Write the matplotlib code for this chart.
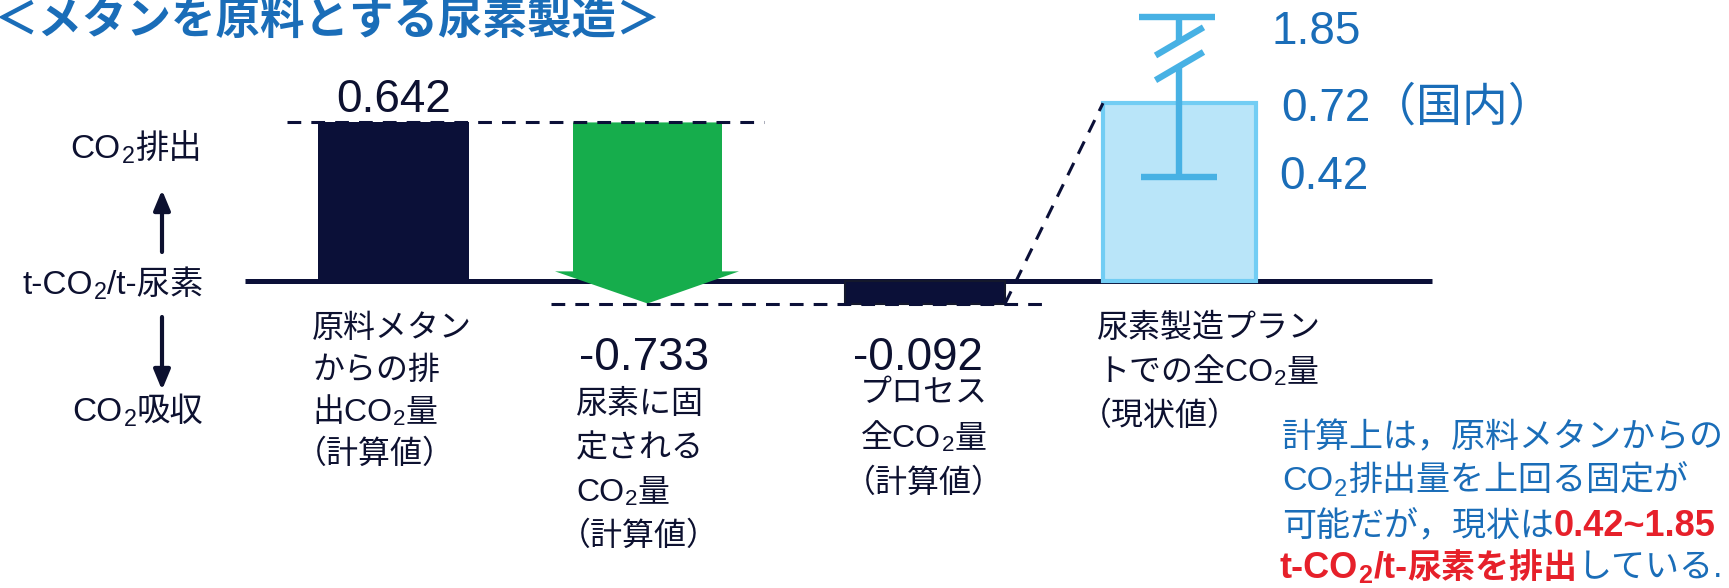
import re
import matplotlib.pyplot as plt
from matplotlib.patches import Polygon
from matplotlib.offsetbox import TextArea, HPacker, AnnotationBbox

W, H = 1729, 588

# t-CO2 / t-urea
feed_emission = 0.642      # CO2 released from the methane feedstock
urea_fixation = -0.733     # CO2 fixed into urea
process_total = -0.092     # net for the whole process
plant_actual = 0.72        # domestic plant, actual
plant_low, plant_high = 0.42, 1.85

value_labels = ["0.642", "-0.733", "-0.092"]
range_labels = ["1.85", "0.72（国内）", "0.42"]

cat_labels = [
    ["原料メタン", "からの排", "出CO$_2$量", "（計算値）"],
    ["尿素に固", "定される", "CO$_2$量", "（計算値）"],
    ["プロセス", "全CO$_2$量", "（計算値）"],
    ["尿素製造プラン", "トでの全CO$_2$量", "（現状値）"],
]

FAMILY = ['Liberation Sans', 'Noto Sans CJK JP', 'DejaVu Sans']
plt.rcParams['font.family'] = FAMILY
plt.rcParams['mathtext.fontset'] = 'custom'
plt.rcParams['mathtext.rm'] = 'Liberation Sans'
plt.rcParams['mathtext.it'] = 'Liberation Sans'
plt.rcParams['mathtext.bf'] = 'Liberation Sans:bold'

NAVY = '#0b1038'
TXT = '#0d1130'
BLUE = '#1a6db8'
RED = '#e6202a'
GREEN = '#16ad4c'
LIGHT = '#b9e5f9'
LIGHT_EDGE = '#72cdf4'
ERR = '#47b1e4'
DASH = (0, (4.5, 3.3))

fig = plt.figure(figsize=(W / 100, H / 100), dpi=100)
ax = fig.add_axes([0, 0, 1, 1])
zero_px, unit_px = 281, 247
ax.set_xlim(0, W)
ax.set_ylim(-(H - zero_px) / unit_px, zero_px / unit_px)
ax.axis('off')


def fp(x, y):
    return (x, H - y)


def rich(x, y, parts, ha='left'):
    """parts: list of (text, props); $..$ pieces become separate math runs."""
    kids = []
    for s, props in parts:
        for piece in re.split(r'(\$[^$]*\$)', s):
            if piece:
                kids.append(TextArea(piece, textprops=props))
    box = HPacker(children=kids, align='baseline', pad=0, sep=0)
    ab = AnnotationBbox(box, fp(x, y), xycoords='figure pixels', frameon=False,
                        pad=0, box_alignment=({'left': 0, 'center': 0.5}[ha], 0.5))
    ax.add_artist(ab)
    return ab


def draw_lines(lines, x, y0, step, ha='left', **props):
    for i, s in enumerate(lines):
        # full-width opening bracket carries its own left space
        dx = -17 if s.startswith('（') and ha == 'left' else 0
        rich(x + dx, y0 + i * step, [(s, props)], ha=ha)


# x positions of the columns (pixels)
x_feed, w_feed = 393.5, 151
x_fix, w_fix = 647.5, 149
x_proc, w_proc = 925, 160
x_plant, w_plant = 1179.5, 153

# zero line
ax.hlines(0, 245, 1432, color=NAVY, lw=3.6, zorder=2)

# feedstock emission
ax.bar(x_feed, feed_emission, w_feed, color=NAVY, zorder=3)
ax.plot([287, 764], [feed_emission] * 2, color=NAVY, lw=2.2, ls=DASH, zorder=5)

# fixation arrow, from the emission level down by the fixed amount
top = feed_emission
tip = feed_emission + urea_fixation
head_len = 0.13
hw = w_fix / 2
arrow = Polygon([
    (x_fix - hw, top), (x_fix + hw, top),
    (x_fix + hw, tip + head_len), (x_fix + hw + 17, tip + head_len),
    (x_fix, tip),
    (x_fix - hw - 18, tip + head_len), (x_fix - hw, tip + head_len),
], closed=True, facecolor=GREEN, edgecolor='none', zorder=4)
ax.add_patch(arrow)

# process total
ax.bar(x_proc, process_total, w_proc, color=NAVY, edgecolor='#14182c', lw=1.5, zorder=3)
ax.plot([551, 1042], [process_total] * 2, color=NAVY, lw=2.2, ls=DASH, zorder=5)
ax.plot([x_proc + w_proc / 2, x_plant - w_plant / 2], [process_total, plant_actual],
        color=NAVY, lw=2.2, ls=DASH, zorder=5)

# actual plant with range
ax.bar(x_plant, plant_actual, w_plant, color=LIGHT, edgecolor=LIGHT_EDGE, lw=3, zorder=3)

BRK = 0.92


def shown(v):
    # compress values above the break
    return v if v <= BRK else BRK + (v - BRK) * 0.16


ekw = dict(color=ERR, lw=4.6, solid_capstyle='butt', zorder=6)
ax.plot([x_plant] * 2, [plant_low, BRK - 0.05], **ekw)
ax.plot([x_plant] * 2, [BRK + 0.05, shown(plant_high)], **ekw)
ax.plot([x_plant - 38, x_plant + 38], [plant_low] * 2, **ekw)
ax.plot([x_plant - 40, x_plant + 36], [shown(plant_high)] * 2, **ekw)
for off in (-0.05, 0.05):
    ax.plot([x_plant - 24, x_plant + 24], [BRK + off - 0.057, BRK + off + 0.057], **ekw)

# value labels
vkw = dict(textcoords='offset points', ha='center', va='center', fontsize=33, color=TXT)
ax.annotate(value_labels[0], (x_feed, feed_emission), xytext=(0, 16), **vkw)
ax.annotate(value_labels[1], (x_fix - 3, tip), xytext=(0, -39), **vkw)
ax.annotate(value_labels[2], (x_proc - 7, process_total), xytext=(0, -39), **vkw)

rkw = dict(textcoords='offset points', ha='left', va='center', fontsize=33, color=BLUE)
ax.annotate(range_labels[0], (1272, shown(plant_high)), xytext=(0, -11), **rkw)
ax.annotate(range_labels[1], (1281, plant_actual), xytext=(0, -4), **rkw)
ax.annotate(range_labels[2], (1279, plant_low), xytext=(0, 0), **rkw)

# category labels
ckw = dict(fontsize=23, color=TXT)
draw_lines(cat_labels[0], 312, 329, 42, **ckw)
draw_lines(cat_labels[1], 576, 405, 44, **ckw)
draw_lines(cat_labels[2], 924, 394, 45, ha='center', **ckw)
draw_lines(cat_labels[3], 1097, 329, 44, **ckw)

# left-hand direction key
lkw = dict(fontsize=24, color=TXT)
rich(136, 150, [("CO$_2$排出", lkw)], ha='center')
rich(113, 286, [("t-CO$_2$/t-尿素", lkw)], ha='center')
rich(138, 413, [("CO$_2$吸収", lkw)], ha='center')
akw = dict(arrowstyle='-|>,head_length=0.6,head_width=0.25', lw=3, color=TXT,
           shrinkA=0, shrinkB=0, mutation_scale=20)
ax.annotate('', xy=fp(162, 190), xycoords='figure pixels',
            xytext=fp(162, 252), textcoords='figure pixels', arrowprops=akw)
ax.annotate('', xy=fp(162, 390), xycoords='figure pixels',
            xytext=fp(162, 317), textcoords='figure pixels', arrowprops=akw)

# title
ax.annotate("＜メタンを原料とする尿素製造＞", fp(-6, 22), xycoords='figure pixels',
            ha='left', va='center', fontsize=32, fontweight='bold', color=BLUE)

# comment, mixed colours
nb = dict(fontsize=24.5, color=BLUE)
nr = dict(fontsize=26, color=RED, fontweight='bold')
nrj = dict(fontsize=24.5, color=RED, fontweight='bold')
rich(1282, 438, [("計算上は，原料メタンからの", nb)])
rich(1282, 482, [("CO$_2$排出量を上回る固定が", nb)])
rich(1282, 527, [("可能だが，現状は", nb), ("0.42~1.85", nr)])
rich(1280, 568, [("t-CO$_\\mathbf{2}$/t-", nr), ("尿素を排出", nrj), ("している.", nb)])

fig.savefig('out.png', dpi=100)
